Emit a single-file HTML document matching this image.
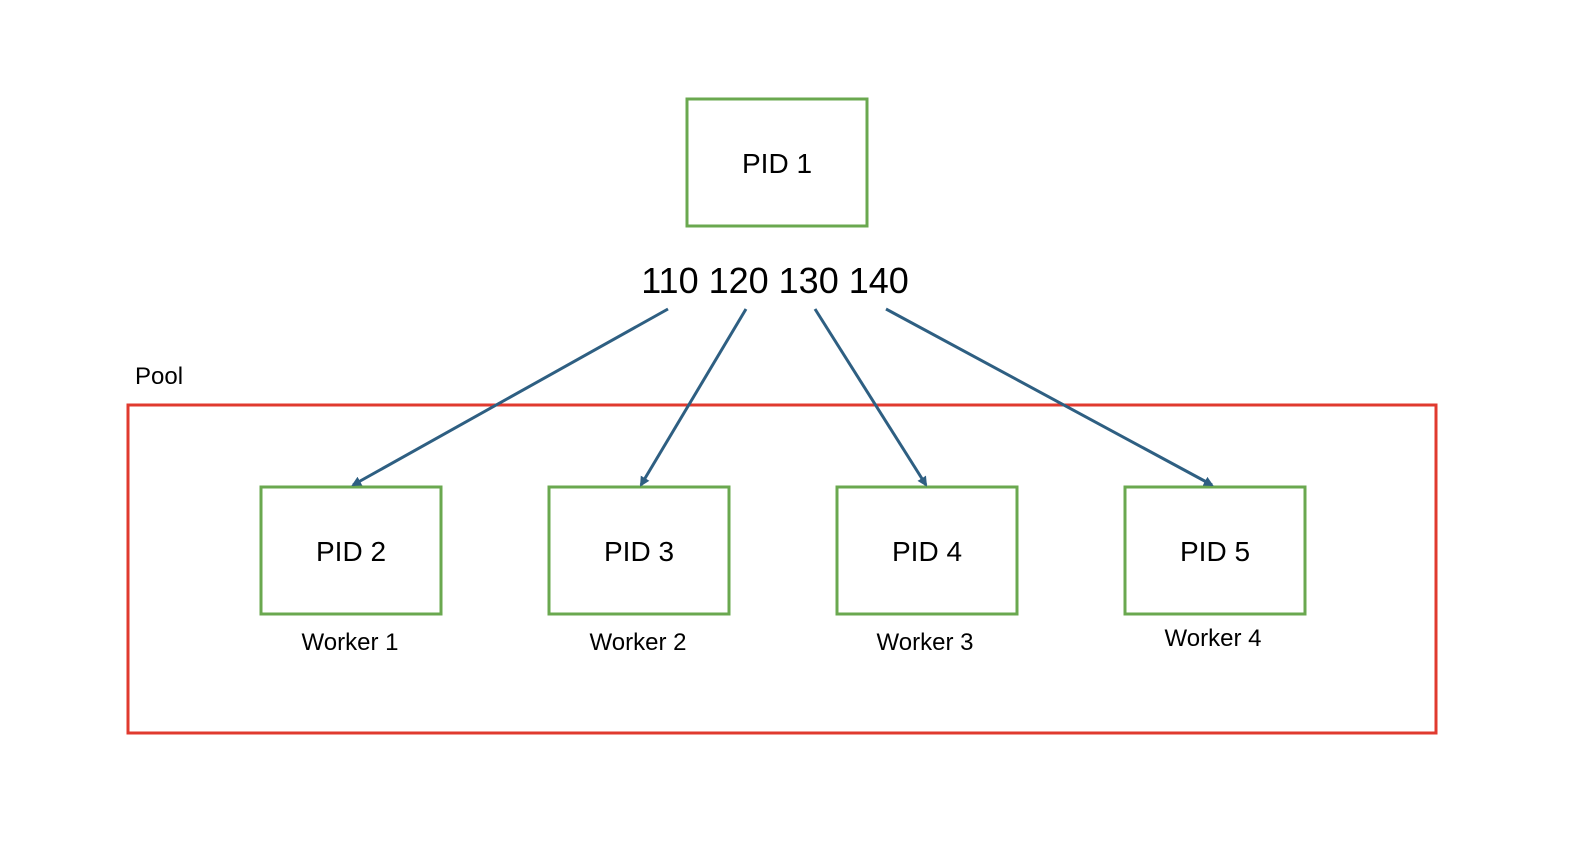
<!DOCTYPE html>
<html><head><style>body{margin:0;background:#fff}</style></head><body>
<svg width="1586" height="842" xmlns="http://www.w3.org/2000/svg" style="display:block">
<defs><marker id="a" markerWidth="10" markerHeight="10" refX="8" refY="5" orient="auto" markerUnits="userSpaceOnUse"><path d="M0,0 L10,5 L0,10 Z" fill="#2e5f82"/></marker></defs>
<g font-family="Liberation Sans, sans-serif" fill="#000">
<rect x="687" y="99" width="180" height="127" fill="none" stroke="#6aa84f" stroke-width="3"/>
<text x="777" y="173" font-size="28" text-anchor="middle">PID 1</text>
<text x="775" y="293" font-size="36" text-anchor="middle">110 120 130 140</text>
<text x="135" y="384" font-size="24">Pool</text>
<rect x="128" y="405" width="1308" height="328" fill="none" stroke="#e03a2f" stroke-width="3"/>
<g fill="none" stroke="#6aa84f" stroke-width="3">
<rect x="261" y="487" width="180" height="127"/><rect x="549" y="487" width="180" height="127"/>
<rect x="837" y="487" width="180" height="127"/><rect x="1125" y="487" width="180" height="127"/>
</g>
<g font-size="28" text-anchor="middle">
<text x="351" y="561">PID 2</text><text x="639" y="561">PID 3</text><text x="927" y="561">PID 4</text><text x="1215" y="561">PID 5</text>
</g>
<g font-size="24" text-anchor="middle">
<text x="350" y="650">Worker 1</text><text x="638" y="650">Worker 2</text><text x="925" y="650">Worker 3</text><text x="1213" y="646">Worker 4</text>
</g>
<g stroke="#2e5f82" stroke-width="3" marker-end="url(#a)">
<line x1="668" y1="309" x2="353" y2="485"/><line x1="746" y1="309" x2="641" y2="485"/>
<line x1="815" y1="309" x2="926" y2="485"/><line x1="886" y1="309" x2="1212" y2="485"/>
</g>
</g></svg>
</body></html>
